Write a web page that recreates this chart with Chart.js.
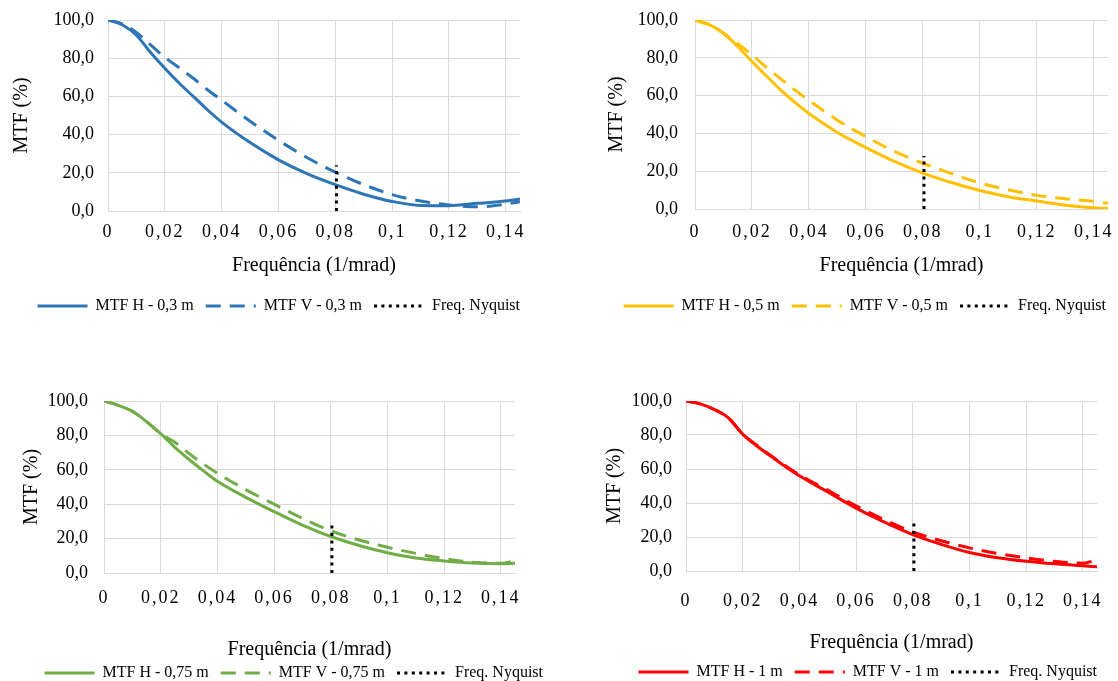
<!DOCTYPE html>
<html>
<head>
<meta charset="utf-8">
<script src="https://cdn.jsdelivr.net/npm/chart.js@4/dist/chart.umd.min.js"></script>
<style>
  html, body { margin: 0; padding: 0; background: #fff; width: 1118px; height: 681px; overflow: hidden; }
  .box { position: absolute; }
</style>
</head>
<body>
<div class="box" style="left:0;top:0;width:560px;height:324px"><canvas id="c1"></canvas></div>
<div class="box" style="left:560px;top:0;width:558px;height:324px"><canvas id="c2"></canvas></div>
<div class="box" style="left:0;top:380px;width:560px;height:311px"><canvas id="c3"></canvas></div>
<div class="box" style="left:560px;top:380px;width:558px;height:310px"><canvas id="c4"></canvas></div>
<script>
// ── Data ──────────────────────────────────────────────
const freq = [0, 0.005, 0.01, 0.015, 0.02, 0.025, 0.03, 0.035, 0.04, 0.05,
              0.06, 0.07, 0.08, 0.09, 0.1, 0.11, 0.12, 0.13, 0.14, 0.145];

const xTickValues = [0, 0.02, 0.04, 0.06, 0.08, 0.1, 0.12, 0.14];
const xTickLabels = ['0', '0,02', '0,04', '0,06', '0,08', '0,1', '0,12', '0,14'];
const yTickValues = [0, 20, 40, 60, 80, 100];
const yTickLabels = ['0,0', '20,0', '40,0', '60,0', '80,0', '100,0'];

// 0,3 m
const mtfH03 = [100, 97.5, 92, 83, 74.7, 67, 60, 53, 46.5, 35.8, 26.8, 19.6, 13.8, 8.8, 5.0, 2.9, 2.8, 4.0, 5.2, 6.3];
const mtfV03 = [100, 98, 93.5, 87, 80.5, 75, 69.5, 63.5, 58, 47, 37, 28, 20.3, 13.8, 8.6, 5.2, 3.2, 2.2, 3.6, 4.9];
// 0,5 m
const mtfH05 = [100, 97.5, 93, 86, 78, 70.5, 63, 56.5, 50.5, 40.5, 32.5, 25.2, 19, 14, 9.8, 6.5, 4.2, 2.0, 0.6, 0.4];
const mtfV05 = [100, 97.5, 93, 87.5, 81.5, 75, 69, 63, 57.5, 47, 38.3, 30.5, 24.2, 18.8, 13.8, 10.2, 7.2, 5.4, 4.0, 3.0];
// 0,75 m
const mtfH075 = [100, 97.5, 94, 88, 81, 73, 66, 59.5, 53.3, 44, 35.7, 27.8, 21.2, 16, 11.8, 8.7, 7.0, 5.8, 5.4, 5.6];
const mtfV075 = [100, 97.5, 94, 88, 81, 76, 69.5, 63.5, 58, 48.5, 40, 31.8, 24.5, 19.2, 15, 11.4, 8.4, 6.3, 5.6, 7.0];
// 1 m
const mtfH1 = [100, 98.3, 95, 90, 80.5, 73.5, 67.5, 61.5, 56, 46.5, 37, 28.7, 21.4, 15.7, 10.9, 7.8, 5.7, 4.2, 3.1, 2.5];
const mtfV1 = [100, 98.3, 95, 90, 80.5, 74, 67.8, 62, 56.6, 47.6, 38.3, 30.2, 23, 17.8, 13.6, 10.3, 7.8, 5.7, 4.6, 6.7];

const nyquistFreq = 0.0804;
const nyquistTop = [24, 28, 28, 28.5];

const labelsH = ['MTF H - 0,3 m', 'MTF H - 0,5 m', 'MTF H - 0,75 m', 'MTF H - 1 m'];
const labelsV = ['MTF V - 0,3 m', 'MTF V - 0,5 m', 'MTF V - 0,75 m', 'MTF V - 1 m'];
const nyquistLabel = 'Freq. Nyquist';

// ── Style ─────────────────────────────────────────────
const SERIF = "'Liberation Serif', 'Times New Roman', serif";
const GRID = '#d9d9d9';
Chart.defaults.font.family = SERIF;
Chart.defaults.color = '#000';

function pts(arr) {
  return freq.map((f, i) => ({ x: f, y: arr[i] }));
}

// legend samples keep the dataset's dash pattern and width
function legendLabels(chart) {
  return Chart.defaults.plugins.legend.labels.generateLabels(chart).map(item => {
    const ds = chart.data.datasets[item.datasetIndex];
    item.lineDash = ds.borderDash || [];
    item.lineWidth = ds.borderWidth;
    item.strokeStyle = ds.borderColor;
    return item;
  });
}

// x tick labels in the original are drawn letter-spaced
function spacedLabels(s) {
  if (s._spaced) return;
  const draw = s.drawLabels;
  s.drawLabels = function (area) {
    this.ctx.save();
    this.ctx.letterSpacing = '2px';
    draw.call(this, area);
    this.ctx.restore();
  };
  s._spaced = true;
}

function makeChart(id, c) {
  return new Chart(document.getElementById(id), {
    type: 'line',
    data: {
      datasets: [
        { label: c.labelH, data: pts(c.h), borderColor: c.color, backgroundColor: c.color,
          borderWidth: 3, pointRadius: 0, cubicInterpolationMode: 'monotone', order: 2 },
        { label: c.labelV, data: pts(c.v), borderColor: c.color, backgroundColor: c.color,
          borderWidth: 3, borderDash: [15, 9], pointRadius: 0, cubicInterpolationMode: 'monotone', order: 1 },
        { label: nyquistLabel, data: [{ x: nyquistFreq, y: 0 }, { x: nyquistFreq, y: c.nyq }],
          borderColor: '#000', backgroundColor: '#000', borderWidth: 3, borderDash: [3, 4.4],
          pointRadius: 0, tension: 0, order: 0 },
      ],
    },
    options: {
      responsive: true,
      maintainAspectRatio: false,
      animation: false,
      layout: { padding: { left: 0, right: c.padR, top: c.padT, bottom: 0 } },
      plugins: {
        legend: {
          position: 'bottom',
          align: 'end',
          labels: {
            usePointStyle: true, pointStyle: 'line', pointStyleWidth: 50, boxWidth: 50,
            padding: 12, color: '#000', font: { family: SERIF, size: 16 },
            generateLabels: legendLabels,
            sort: (a, b) => a.datasetIndex - b.datasetIndex,
          },
        },
        tooltip: { enabled: false },
      },
      scales: {
        x: {
          type: 'linear', min: 0, max: 0.145,
          afterBuildTicks: s => { s.ticks = xTickValues.map(v => ({ value: v })); },
          afterFit: s => { s.height = c.xH; s.paddingLeft = 0; s.paddingRight = 0; spacedLabels(s); },
          ticks: { padding: c.xTickPad, color: '#000', font: { size: 18 }, maxRotation: 0,
                   callback: (v, i) => xTickLabels[i] },
          grid: { color: GRID, lineWidth: 1, drawTicks: false },
          border: { color: GRID },
          title: { display: true, text: 'Frequência (1/mrad)', color: '#000', font: { size: 20 },
                   padding: { top: 0, bottom: c.xTitlePadB } },
        },
        y: {
          min: 0, max: 100,
          afterBuildTicks: s => { s.ticks = yTickValues.map(v => ({ value: v })); },
          afterFit: s => { s.width = c.yW; s.paddingTop = 0; s.paddingBottom = 0; },
          ticks: { padding: c.yTickPad, color: '#000', font: { size: 18 },
                   callback: (v, i) => yTickLabels[i] },
          grid: { color: GRID, lineWidth: 1, drawTicks: false },
          border: { color: GRID },
          title: { display: true, text: 'MTF (%)', color: '#000', font: { size: 20 },
                   padding: { top: c.yTitlePadT, bottom: 0 } },
        },
        // empty spacer on the right so the legend can run wider than the plot
        pad: {
          position: 'right', display: true,
          grid: { display: false }, border: { display: false }, ticks: { display: false },
          afterFit: s => { s.width = c.spacerW; s.paddingTop = 0; s.paddingBottom = 0; },
        },
      },
    },
  });
}

makeChart('c1', { color: '#2e75b6', h: mtfH03, v: mtfV03, labelH: labelsH[0], labelV: labelsV[0], nyq: nyquistTop[0],
  padR: 28, spacerW: 12, padT: 20, yW: 108, yTitlePadT: 10, yTickPad: 14, xH: 75, xTickPad: 10, xTitlePadB: 8 });
makeChart('c2', { color: '#ffc000', h: mtfH05, v: mtfV05, labelH: labelsH[1], labelV: labelsV[1], nyq: nyquistTop[1],
  padR: 0, spacerW: 10, padT: 20, yW: 135, yTitlePadT: 45, yTickPad: 17, xH: 77, xTickPad: 12, xTitlePadB: 8 });
makeChart('c3', { color: '#70ad47', h: mtfH075, v: mtfV075, labelH: labelsH[2], labelV: labelsV[2], nyq: nyquistTop[2],
  padR: 5, spacerW: 40, padT: 21, yW: 104, yTitlePadT: 20, yTickPad: 16, xH: 80, xTickPad: 14, xTitlePadB: -9 });
makeChart('c4', { color: '#ff0000', h: mtfH1, v: mtfV1, labelH: labelsH[3], labelV: labelsV[3], nyq: nyquistTop[3],
  padR: 9, spacerW: 12, padT: 21, yW: 126, yTitlePadT: 43, yTickPad: 14, xH: 81, xTickPad: 19, xTitlePadB: -3 });
</script>
</body>
</html>
